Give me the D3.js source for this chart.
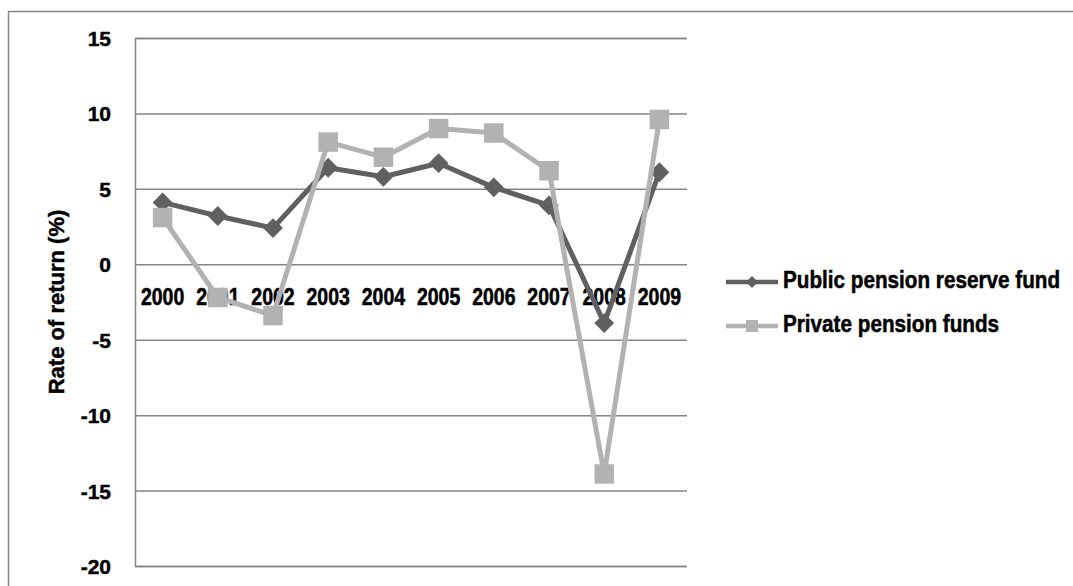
<!DOCTYPE html>
<html>
<head>
<meta charset="utf-8">
<script src="https://cdn.jsdelivr.net/npm/d3@7/dist/d3.min.js"></script>
<style>
  body { margin: 0; background: #fff; }
  svg { display: block; }
  text { font-family: "Liberation Sans", Arial, sans-serif; font-weight: bold; fill: #000; stroke: #000; stroke-width: 0.45px; }
</style>
</head>
<body>
<script>

// chart data
var years = ['2000','2001','2002','2003','2004','2005','2006','2007','2008','2009']
var publicFund = [4.1, 3.2, 2.4, 6.4, 5.8, 6.7, 5.1, 3.9, -3.9, 6.1]
var privateFunds = [3.1, -2.2, -3.4, 8.1, 7.1, 9.0, 8.7, 6.2, -13.9, 9.6]
var seriesNames = ['Public pension reserve fund', 'Private pension funds']
var yTicks = [15, 10, 5, 0, -5, -10, -15, -20]

// canvas
var W = 1073, H = 586
var plot = {left: 135, top: 38, right: 687, bottom: 566}

var svg = d3.select("body").append("svg")
  .attr("width", W)
  .attr("height", H)

// outer chart border (runs off the right / bottom edge)
svg.append("rect")
  .attr("x", 8.5).attr("y", 11.5)
  .attr("width", 1100).attr("height", 700)
  .attr("fill", "none")
  .attr("stroke", "#868686")
  .attr("stroke-width", 1.5)

// scales
var x = d3.scaleBand().domain(years).range([plot.left, plot.right])
var y = d3.scaleLinear().domain([-20, 15]).range([plot.bottom, plot.top])

// horizontal gridlines + y labels (plain hyphen like the original)
var yAxis = d3.axisLeft(y).tickValues(yTicks).tickSize(-(plot.right - plot.left)).tickFormat(function(d) { return String(d) })
var gy = svg.append("g")
  .attr("transform", "translate(" + plot.left + ",0)")
  .call(yAxis)
gy.select(".domain").attr("stroke", "#868686").attr("stroke-width", 1.5)
gy.selectAll(".tick line").attr("stroke", "#868686").attr("stroke-width", 1.5)
gy.selectAll(".tick text")
  .attr("x", -24)
  .attr("dy", "0.36em")
  .style("font-size", "21px")
  .attr("text-anchor", "end")

// y axis title
svg.append("text")
  .attr("transform", "translate(64,302) rotate(-90)")
  .attr("text-anchor", "middle")
  .style("font-size", "22px")
  .text("Rate of return (%)")

// category labels sit just under the zero line
svg.append("g").selectAll("text")
  .data(years)
  .join("text")
  .attr("transform", function(d) { return "translate(" + (x(d) + x.bandwidth() / 2) + ",305) scale(1,1.18)" })
  .attr("text-anchor", "middle")
  .style("font-size", "19.5px")
  .text(function(d) { return d })

// series
var diamond = d3.symbol().type(d3.symbolSquare)
var square = d3.symbol().type(d3.symbolSquare)

var lineGen = d3.line()
  .x(function(d, i) { return x(years[i]) + x.bandwidth() / 2 })
  .y(function(d) { return y(d) })

var series = [
  {name: seriesNames[0], values: publicFund, color: "#606060", marker: "diamond"},
  {name: seriesNames[1], values: privateFunds, color: "#b2b2b2", marker: "square"}
]

series.forEach(function(s) {
  svg.append("path")
    .attr("d", lineGen(s.values))
    .attr("fill", "none")
    .attr("stroke", s.color)
    .attr("stroke-width", 5)
    .attr("stroke-linejoin", "round")

  svg.append("g").selectAll("path")
    .data(s.values)
    .join("path")
    .attr("transform", function(d, i) {
      var t = "translate(" + (x(years[i]) + x.bandwidth() / 2) + "," + y(d) + ")"
      return s.marker === "diamond" ? t + " rotate(45)" : t
    })
    .attr("d", s.marker === "diamond" ? diamond.size(196)() : square.size(380)())
    .attr("fill", s.color)
})

// legend
var legend = svg.append("g")
series.forEach(function(s, i) {
  var ly = 282 + i * 44
  legend.append("line")
    .attr("x1", 726).attr("x2", 778)
    .attr("y1", ly).attr("y2", ly)
    .attr("stroke", s.color)
    .attr("stroke-width", 4.5)
  legend.append("path")
    .attr("transform", "translate(752," + ly + ")" + (s.marker === "diamond" ? " rotate(45)" : ""))
    .attr("d", s.marker === "diamond" ? d3.symbol().type(d3.symbolSquare).size(72)() : d3.symbol().type(d3.symbolSquare).size(144)())
    .attr("fill", s.color)
  legend.append("text")
    .attr("transform", "translate(783," + (ly + 6) + ") scale(1,1.18)")
    .style("font-size", "20.7px")
    .text(s.name)
})

</script>
</body>
</html>
